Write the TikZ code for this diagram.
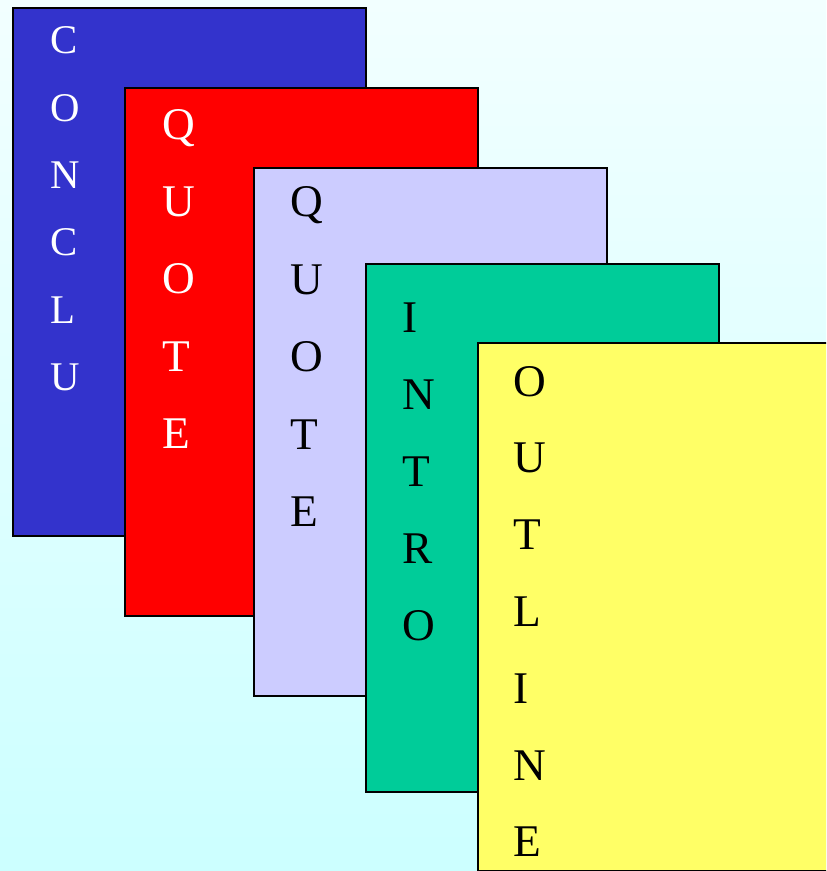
\documentclass[tikz,border=0pt]{standalone}
\usepackage{fontspec}
\setmainfont{Liberation Serif}
\usepackage{xcolor}
\usepackage{tikz}
\usetikzlibrary{positioning}

\definecolor{bgtop}{RGB}{242,255,255}
\definecolor{bgbot}{RGB}{204,255,255}
\definecolor{cblue}{RGB}{51,51,204}
\definecolor{cred}{RGB}{255,0,0}
\definecolor{clav}{RGB}{204,204,255}
\definecolor{cgreen}{RGB}{0,204,153}
\definecolor{cyell}{RGB}{255,255,102}

\begin{document}
\begin{tikzpicture}[x=0.02cm, y=-0.02cm,
  card/.style={draw=black, line width=1.4pt, anchor=north west, outer sep=0pt,
               inner sep=0pt, minimum width=7.06cm, minimum height=10.56cm},
  lbl/.style={anchor=base west, inner sep=0pt,
              font=\fontsize{25.8}{30}\selectfont},
  lblsmall/.style={lbl, font=\fontsize{23.2}{28}\selectfont}]
% --- background ---
\useasboundingbox (0,0) rectangle (826,871);
\clip (0,0) rectangle (826,871);
\shade[top color=bgtop, bottom color=bgbot] (0,0) rectangle (826,871);
% --- cards, back to front ---
\node[card, fill=cblue] (conclu) at (13,8) {};
\foreach \l [count=\i from 0] in {C,O,N,C,L,U}
  \node[lblsmall, text=white] (conclu\i) at (50,54+\i*67.3) {\l};
\node[card, fill=cred] (quotea) at (125,88) {};
\foreach \l [count=\i from 0] in {Q,U,O,T,E}
  \node[lbl, text=white] (quotea\i) at (162,140+\i*77) {\l};
\node[card, fill=clav] (quoteb) at (254,168) {};
\foreach \l [count=\i from 0] in {Q,U,O,T,E}
  \node[lbl] (quoteb\i) at (290,217+\i*77.4) {\l};
\node[card, fill=cgreen] (intro) at (366,264) {};
\foreach \l [count=\i from 0] in {I,N,T,R,O}
  \node[lbl] (intro\i) at (402,332+\i*77.2) {\l};
\node[card, fill=cyell] (outline) at (478,343) {};
\foreach \l [count=\i from 0] in {O,U,T,L,I,N,E}
  \node[lbl] (outline\i) at (513,396+\i*76.8) {\l};
\end{tikzpicture}
\end{document}
